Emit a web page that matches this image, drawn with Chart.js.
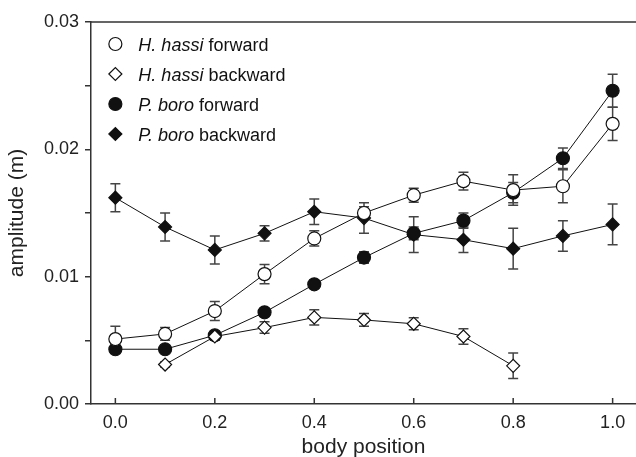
<!DOCTYPE html>
<html>
<head>
<meta charset="utf-8">
<script src="https://cdn.jsdelivr.net/npm/chart.js@4"></script>
<style>
  html, body { margin: 0; background: #fff; overflow: hidden; }
  canvas { display: block; }
</style>
</head>
<body>
<canvas id="chart" width="636" height="457"></canvas>
<script>
// body positions along the fish
const positions = [0.0, 0.1, 0.2, 0.3, 0.4, 0.5, 0.6, 0.7, 0.8, 0.9, 1.0];
const hhBackPositions = [0.1, 0.2, 0.3, 0.4, 0.5, 0.6, 0.7, 0.8];

// amplitude (m) and error bars
const hhForward = [0.0051, 0.0055, 0.0073, 0.0102, 0.0130, 0.0150, 0.0164, 0.0175, 0.0168, 0.0171, 0.0220];
const hhForwardErr = [0.0010, 0.0005, 0.00075, 0.00075, 0.0006, 0.0005, 0.00055, 0.0007, 0.0012, 0.0013, 0.0013];
const hhBackward = [0.0031, 0.0053, 0.0060, 0.0068, 0.0066, 0.0063, 0.0053, 0.0030];
const hhBackwardErr = [0.0002, 0.0003, 0.00045, 0.0006, 0.0005, 0.00047, 0.0006, 0.0010];
const pbForward = [0.0043, 0.0043, 0.0054, 0.0072, 0.0094, 0.0115, 0.0134, 0.0144, 0.0166, 0.0193, 0.0246];
const pbForwardErr = [0.0003, 0.0002, 0.0003, 0.0002, 0.0003, 0.00045, 0.0005, 0.0006, 0.0008, 0.0008, 0.0013];
const pbBackward = [0.0162, 0.0139, 0.0121, 0.0134, 0.0151, 0.0146, 0.0133, 0.0129, 0.0122, 0.0132, 0.0141];
const pbBackwardErr = [0.0011, 0.0011, 0.0011, 0.0006, 0.0010, 0.0012, 0.0014, 0.0010, 0.0016, 0.0012, 0.0016];

// tick labels
const xTickValues = [0.0, 0.2, 0.4, 0.6, 0.8, 1.0];
const xTickLabels = ['0.0', '0.2', '0.4', '0.6', '0.8', '1.0'];
const yTickValues = [0, 0.005, 0.01, 0.015, 0.02, 0.025, 0.03];
const yTickLabels = ['0.00', '', '0.01', '', '0.02', '', '0.03'];

const FONT = '"Liberation Sans", Arial, sans-serif';
const AXIS = '#333';

const toPoints = (xs, ys, errs) => xs.map((x, i) => ({ x, y: ys[i], err: errs[i] }));

const series = [
  { species: 'H. hassi', dir: ' forward', data: toPoints(positions, hhForward, hhForwardErr), style: 'circle', fill: '#fff' },
  { species: 'H. hassi', dir: ' backward', data: toPoints(hhBackPositions, hhBackward, hhBackwardErr), style: 'rectRot', fill: '#fff' },
  { species: 'P. boro', dir: ' forward', data: toPoints(positions, pbForward, pbForwardErr), style: 'circle', fill: '#111' },
  { species: 'P. boro', dir: ' backward', data: toPoints(positions, pbBackward, pbBackwardErr), style: 'rectRot', fill: '#111' }
];

// error bars, drawn under the markers
const errorBars = {
  id: 'errorBars',
  beforeDatasetsDraw(chart) {
    const { ctx, scales: { x, y } } = chart;
    ctx.save();
    ctx.strokeStyle = '#444';
    ctx.lineWidth = 1.5;
    chart.data.datasets.forEach(ds => {
      ds.data.forEach(p => {
        const px = x.getPixelForValue(p.x);
        const top = y.getPixelForValue(p.y + p.err);
        const bot = y.getPixelForValue(p.y - p.err);
        ctx.beginPath();
        ctx.moveTo(px, top); ctx.lineTo(px, bot);
        ctx.moveTo(px - 5, top); ctx.lineTo(px + 5, top);
        ctx.moveTo(px - 5, bot); ctx.lineTo(px + 5, bot);
        ctx.stroke();
      });
    });
    ctx.restore();
  }
};

// top frame line, inward x ticks and the legend
const decorations = {
  id: 'decorations',
  afterDraw(chart) {
    const { ctx, chartArea: area, scales: { x } } = chart;
    ctx.save();
    ctx.strokeStyle = AXIS;
    ctx.lineWidth = 1.5;
    ctx.beginPath();
    ctx.moveTo(area.left, area.top);
    ctx.lineTo(area.right, area.top);
    x.ticks.forEach(t => {
      const px = x.getPixelForValue(t.value);
      ctx.moveTo(px, area.bottom);
      ctx.lineTo(px, area.bottom - 6);
    });
    ctx.stroke();

    const lx = x.getPixelForValue(0);
    const textX = lx + 23;
    ctx.textBaseline = 'alphabetic';
    chart.data.datasets.forEach((ds, i) => {
      const cy = 44 + i * 30;
      ctx.fillStyle = ds.pointBackgroundColor;
      ctx.strokeStyle = '#111';
      ctx.lineWidth = 1.2;
      Chart.helpers.drawPoint(ctx, { pointStyle: ds.pointStyle, radius: 6.5, borderWidth: 1.2, rotation: 0 }, lx, cy);
      ctx.fillStyle = '#111';
      ctx.font = 'italic 18px ' + FONT;
      ctx.fillText(ds.species, textX, cy + 6.5);
      const w = ctx.measureText(ds.species).width;
      ctx.font = '18px ' + FONT;
      ctx.fillText(ds.dir, textX + w, cy + 6.5);
    });
    ctx.restore();
  }
};

new Chart(document.getElementById('chart'), {
  type: 'line',
  data: {
    datasets: series.map(s => ({
      label: s.species + s.dir,
      species: s.species,
      dir: s.dir,
      data: s.data,
      borderColor: '#111',
      borderWidth: 1,
      pointStyle: s.style,
      pointRadius: 6.5,
      pointHoverRadius: 6.5,
      pointBorderWidth: 1.2,
      pointBorderColor: '#111',
      pointBackgroundColor: s.fill,
      tension: 0
    }))
  },
  options: {
    responsive: false,
    animation: false,
    layout: { autoPadding: false, padding: { top: 22, right: 0, left: 0, bottom: 0 } },
    plugins: { legend: { display: false }, tooltip: { enabled: false } },
    scales: {
      x: {
        type: 'linear',
        min: -0.049,
        max: 1.047,
        afterBuildTicks: s => { s.ticks = xTickValues.map(v => ({ value: v })); },
        afterFit: s => { s.height = 53; s.paddingLeft = 0; s.paddingRight = 0; },
        ticks: {
          callback: (v, i) => xTickLabels[i],
          color: '#222',
          font: { family: FONT, size: 18 },
          padding: 8,
          maxRotation: 0
        },
        grid: { display: false, drawTicks: false, tickLength: 0 },
        border: { display: true, color: AXIS, width: 1.5 },
        title: {
          display: true,
          text: 'body position',
          color: '#222',
          font: { family: FONT, size: 21, lineHeight: 0.9 },
          padding: { top: 0, bottom: 0 }
        }
      },
      y: {
        min: 0,
        max: 0.03,
        afterBuildTicks: s => { s.ticks = yTickValues.map(v => ({ value: v })); },
        afterFit: s => { s.width = 91; },
        ticks: {
          callback: (v, i) => yTickLabels[i],
          color: '#222',
          font: { family: FONT, size: 18 },
          padding: 6
        },
        grid: { display: true, drawOnChartArea: false, drawTicks: true, tickLength: 6, color: AXIS, lineWidth: 1.5 },
        border: { display: true, color: AXIS, width: 1.5 },
        title: {
          display: true,
          text: 'amplitude (m)',
          color: '#222',
          font: { family: FONT, size: 21, lineHeight: 0.9 },
          padding: { top: 8, bottom: 0 }
        }
      }
    }
  },
  plugins: [errorBars, decorations]
});
</script>
</body>
</html>
